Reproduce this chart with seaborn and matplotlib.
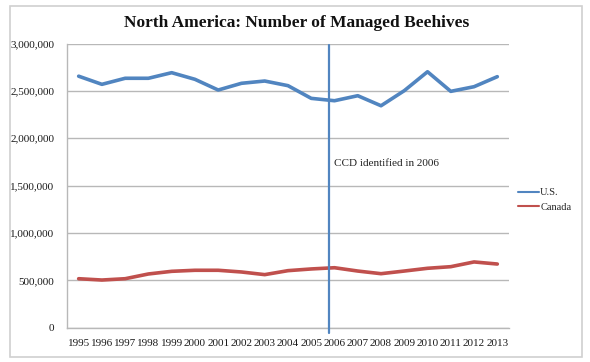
import matplotlib
matplotlib.use("Agg")
import matplotlib.pyplot as plt
import matplotlib.ticker as mticker
from matplotlib.patches import Rectangle
import pandas as pd
import seaborn as sns

# Data
years = list(range(1995, 2014))
us_hives = [2655000, 2569000, 2633000, 2633000, 2692000, 2622000, 2509000,
            2580000, 2604000, 2555000, 2421000, 2396000, 2449000, 2343000,
            2502000, 2702000, 2495000, 2544000, 2650000]
canada_hives = [517000, 503000, 517000, 567000, 595000, 606000, 606000,
                588000, 560000, 602000, 620000, 633000, 598000, 570000,
                598000, 627000, 644000, 694000, 672000]
series_names = ["U.S.", "Canada"]
series_colors = ["#5185C0", "#C0504D"]
ccd_year = 2006
ccd_label = "CCD identified in 2006"
title = "North America: Number of Managed Beehives"

df = pd.DataFrame({
    "Year": years * 2,
    "Hives": us_hives + canada_hives,
    "Country": [series_names[0]] * len(years) + [series_names[1]] * len(years),
})

sns.set_style("white")
plt.rcParams["font.family"] = ["Liberation Serif", "DejaVu Serif"]

fig = plt.figure(figsize=(5.9, 3.62), dpi=100)
ax = fig.add_axes([0.1136, 0.0948, 0.749, 0.785])

sns.lineplot(
    data=df,
    x="Year",
    y="Hives",
    hue="Country",
    palette=series_colors,
    linewidth=2.6,
    ax=ax,
)

# CCD marker line (drawn a little left of the 2006 tick, as in the original)
ax.plot([ccd_year - 0.25, ccd_year - 0.25], [-60000, 2980000],
        color=series_colors[0], linewidth=1.6, clip_on=False, zorder=3)
ax.text(ccd_year, 1738000, ccd_label, fontsize=8, va="center",
        ha="left", color="#222222")

ax.set_xlim(1994.5, 2013.5)
ax.set_ylim(0, 3000000)
ax.set_xticks(years)
ax.set_yticks(range(0, 3000001, 500000))
ax.yaxis.set_major_formatter(mticker.FuncFormatter(lambda v, p: f"{int(v):,}"))
ax.tick_params(axis="both", length=0, labelsize=8, colors="#1a1a1a")
ax.tick_params(axis="x", pad=8)
ax.tick_params(axis="y", pad=9)
ax.grid(axis="y", color="#b8b8b8", linewidth=1)
ax.set_axisbelow(True)
for side in ["top", "right"]:
    ax.spines[side].set_visible(False)
for side in ["left", "bottom"]:
    ax.spines[side].set_color("#b8b8b8")
    ax.spines[side].set_linewidth(1)
ax.set_xlabel("")
ax.set_ylabel("")

ax.legend(
    loc="center left",
    bbox_to_anchor=(1.0, 0.45),
    frameon=False,
    fontsize=7.5,
    handlelength=2.0,
    handletextpad=0.1,
    labelspacing=0.5,
)
for legend_line in ax.get_legend().get_lines():
    legend_line.set_linewidth(1.5)

fig.text(0.502, 0.937, title, ha="center", va="center",
         fontsize=12.5, fontweight="bold", color="#111111")

fig.patches.append(Rectangle((10 / 590, 5 / 362), 572 / 590, 351 / 362,
                             transform=fig.transFigure, fill=False,
                             edgecolor="#d0d0d0", linewidth=1.2))

fig.savefig("out.png", dpi=100)
